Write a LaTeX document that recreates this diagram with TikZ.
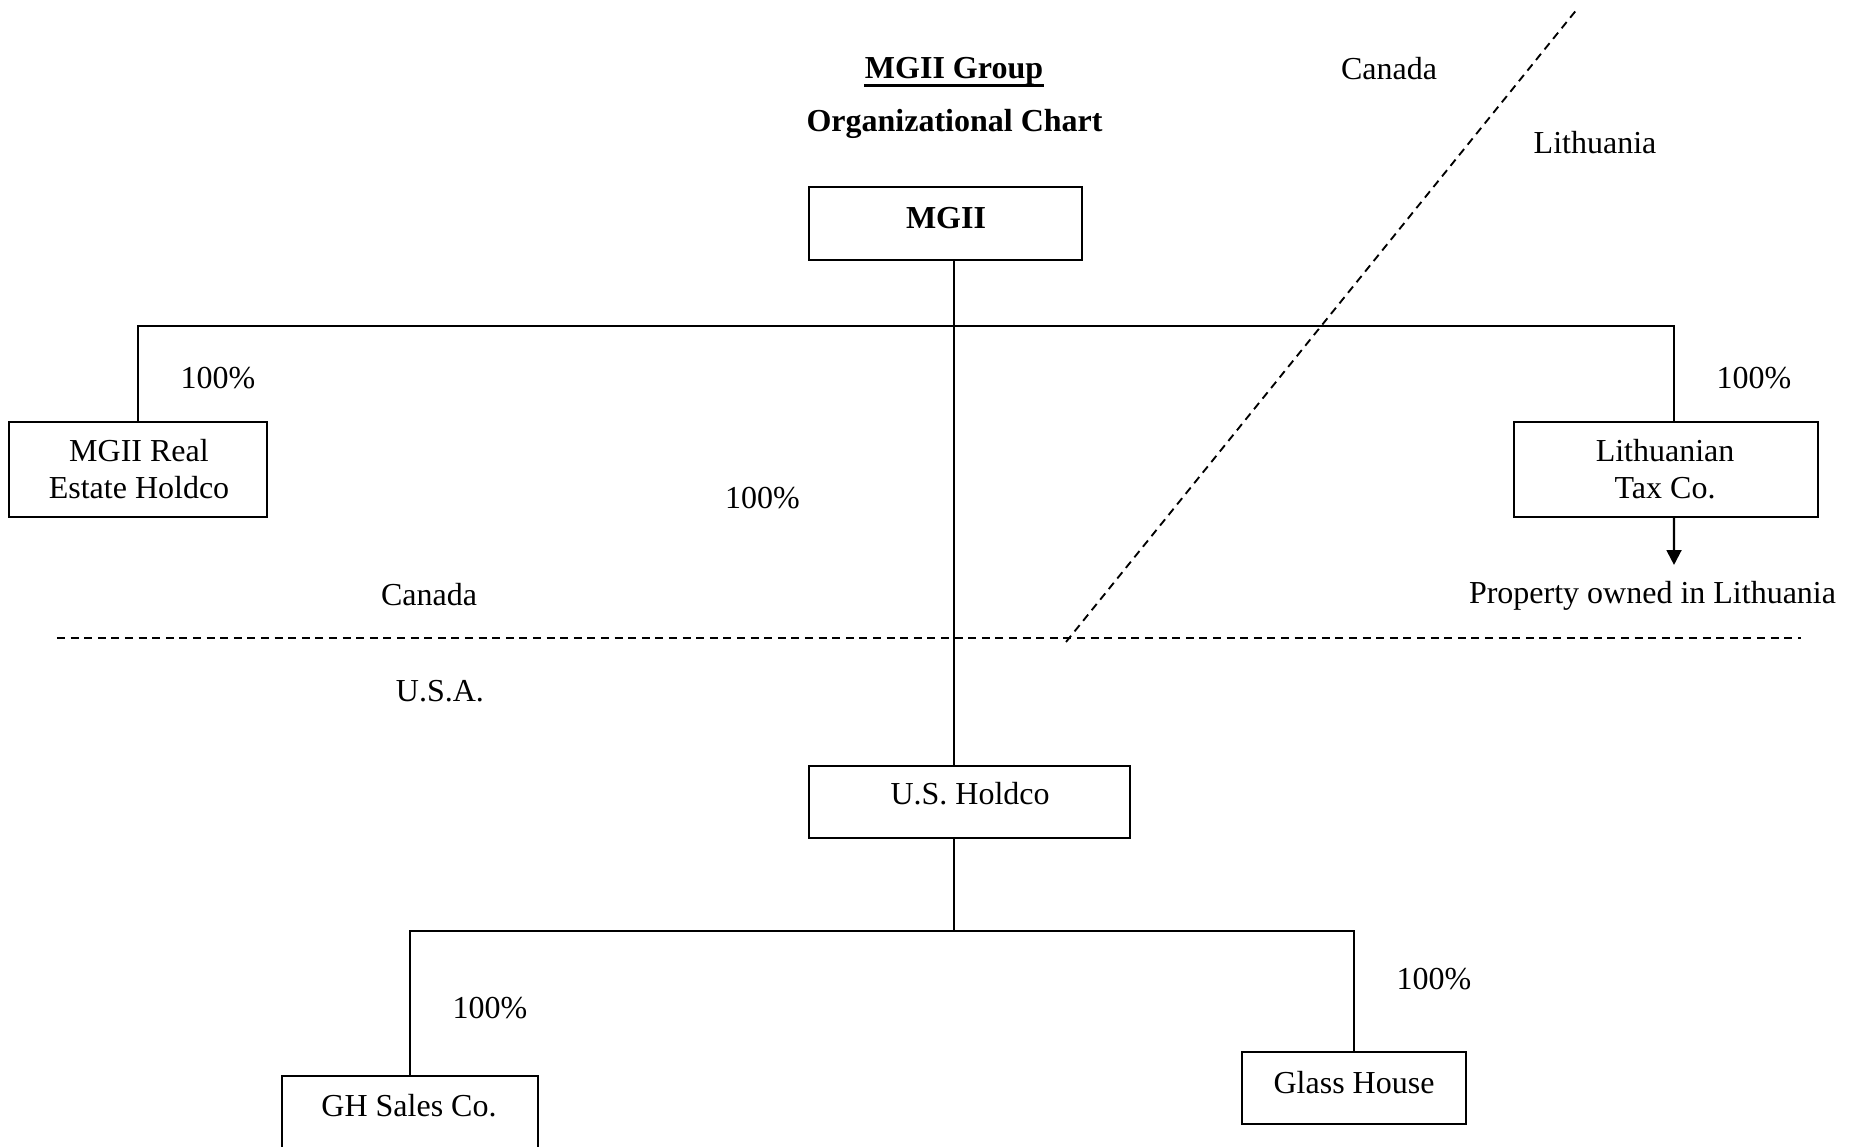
\documentclass[tikz,border=0pt]{standalone}
\usepackage{fontspec}
\setmainfont{Liberation Serif}
\usetikzlibrary{arrows.meta}

\begin{document}
\begin{tikzpicture}[
    orgbox/.style={shape=rectangle, draw, line width=0.8pt, inner sep=0},
    boxtext/.style={anchor=center, align=center, inner sep=0pt, font=\fontsize{12}{13.9}\selectfont},
    wire/.style={line width=0.8pt},
    border/.style={line width=0.7pt, dash pattern={on 3pt off 2.1pt}}
  ]
  \clip (0,0) rectangle (24.488,15.117);
  % Titles and country labels:
  \node[boxtext, anchor=base, font=\fontsize{12}{13.9}\selectfont\bfseries] (title) at (12.574, 14.076){MGII Group};
  \node[boxtext, anchor=base, font=\fontsize{12}{13.9}\selectfont\bfseries] (subtitle) at (12.581, 13.378){Organizational Chart};
  \draw[line width=1.3pt] ([yshift=-0.083cm]title.base west) -- ([yshift=-0.083cm]title.base east);
  \node[boxtext] (canadatop) at (18.307, 14.215){Canada};
  \node[boxtext] (lithuania) at (21.022, 13.233){Lithuania};
  \node[boxtext] (canadaleft) at (5.654, 7.275){Canada};
  \node[boxtext] (usa) at (5.799, 6.010){U.S.A.};
  % Boxes:
  \node[orgbox, minimum width=3.598cm, minimum height=0.962cm] (mgii) at (12.462, 12.172){} node[boxtext, font=\fontsize{12}{13.9}\selectfont\bfseries] (mgiitext) at (12.468, 12.238){MGII};
  \node[orgbox, minimum width=3.400cm, minimum height=1.252cm] (realestate) at (1.819, 8.929){} node[boxtext] (realestatetext) at (1.832, 8.929){MGII Real\\Estate Holdco};
  \node[orgbox, minimum width=4.007cm, minimum height=1.252cm] (lithtax) at (21.958, 8.929){} node[boxtext] (lithtaxtext) at (21.945, 8.929){Lithuanian\\Tax Co.};
  \node[orgbox, minimum width=4.231cm, minimum height=0.949cm] (usholdco) at (12.778, 4.547){} node[boxtext] (usholdcotext) at (12.785, 4.659){U.S. Holdco};
  \node[orgbox, minimum width=2.952cm, minimum height=0.949cm] (glasshouse) at (17.846, 0.778){} node[boxtext] (glasshousetext) at (17.846, 0.850){Glass House};
  \node[orgbox, minimum width=3.374cm, minimum height=1.054cm] (ghsales) at (5.404, 0.409){} node[boxtext] (ghsalestext) at (5.391, 0.540){GH Sales Co.};
  \node[boxtext, anchor=base] (property) at (21.780, 7.157){Property owned in Lithuania};
  % Percentages:
  \node[boxtext] (pctleft) at (2.873, 10.135){100\%};
  \node[boxtext] (pctright) at (23.118, 10.135){100\%};
  \node[boxtext] (pctmid) at (10.050, 8.554){100\%};
  \node[boxtext] (pctgh) at (6.458, 1.825){100\%};
  \node[boxtext] (pctglass) at (18.900, 2.214){100\%};
  % Wires:
  \coordinate (topbar) at (12.574, 10.821);
  \coordinate (lowbar) at (12.574, 2.847);
  \coordinate (lithdrop) at ([xshift=0.105cm]lithtax.north);
  \coordinate (lithout) at ([xshift=0.105cm]lithtax.south);
  \coordinate (proptip) at (22.063, 7.671);
  \draw[wire] (mgii.south -| topbar) -- (usholdco.north -| topbar);
  \draw[wire] (realestate.north) |- (topbar) -| (lithdrop);
  \draw[wire, -{Triangle[length=5.6pt, width=5.6pt]}] (lithout) -- (proptip);
  \draw[wire] (usholdco.south -| lowbar) -- (lowbar);
  \draw[wire] (ghsales.north) |- (lowbar) -| (glasshouse.north);
  % Borders:
  \coordinate (borderwest) at (0.751, 6.709);
  \coordinate (bordereast) at (23.737, 6.709);
  \coordinate (diagfoot) at (14.050, 6.656);
  \coordinate (diagtop) at (20.798, 15.012);
  \draw[border] (borderwest) -- (bordereast);
  \draw[border] (diagfoot) -- (diagtop);
\end{tikzpicture}
\end{document}
